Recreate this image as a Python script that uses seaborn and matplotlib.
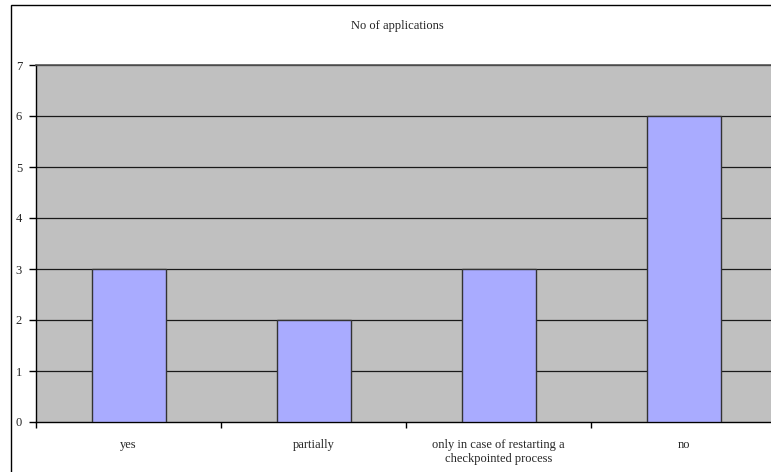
import matplotlib
matplotlib.use("Agg")
import matplotlib.pyplot as plt
from matplotlib.patches import Rectangle
import seaborn as sns
import pandas as pd

categories = ["yes", "partially", "only in case of restarting a\ncheckpointed process", "no"]
values = [3, 2, 3, 6]
y_ticks = [0, 1, 2, 3, 4, 5, 6, 7]
title = "No of applications"

sns.set_theme(style="white")
plt.rcParams["font.family"] = ["Liberation Serif", "DejaVu Serif"]

df = pd.DataFrame({"category": categories, "count": values})

fig = plt.figure(figsize=(7.71, 4.72), dpi=100)
fig.patch.set_facecolor("white")

# chart-area frame
fig.patches.append(Rectangle((10.5 / 771, -0.1), 1.2, 1.1 - 4.5 / 472,
                             transform=fig.transFigure, fill=False,
                             edgecolor="black", linewidth=1.0, zorder=0))

ax = fig.add_axes([36 / 771, 50 / 472, 740 / 771, 357 / 472])
ax.set_facecolor("#C0C0C0")

sns.barplot(data=df, x="category", y="count", color="#A9ABFF", width=0.4,
            saturation=1, edgecolor="#333333", linewidth=1.0, ax=ax, zorder=3)

ax.set_xlim(-0.5, len(categories) - 0.5)
ax.set_ylim(0, 7)
ax.set_yticks(y_ticks)
ax.set_yticklabels([str(t) for t in y_ticks], fontsize=9)
for t in y_ticks[1:]:
    ax.axhline(t, color="#1a1a1a", linewidth=0.9, zorder=1)

# tick marks on category boundaries, labels at category centres
ax.set_xticks([i - 0.5 for i in range(len(categories) + 1)])
ax.set_xticklabels([])
ax.set_xticks(range(len(categories)), minor=True)
ax.set_xticklabels(categories, minor=True, fontsize=9, linespacing=1.3)
ax.tick_params(axis="x", which="major", direction="out", length=4, width=1,
               color="black", bottom=True)
ax.tick_params(axis="x", which="minor", length=0, pad=12)
ax.tick_params(axis="y", direction="out", length=5, width=1, color="black",
               left=True, pad=5)

ax.set_xlabel("")
ax.set_ylabel("")
for side in ["left", "bottom"]:
    ax.spines[side].set_color("black")
    ax.spines[side].set_linewidth(1.0)
ax.spines["top"].set_color("#555555")
ax.spines["top"].set_linewidth(1.2)
ax.spines["right"].set_visible(False)

fig.text(397 / 771, 1 - 26 / 472, title, ha="center", va="center", fontsize=9)

fig.savefig("out.png", dpi=100)
